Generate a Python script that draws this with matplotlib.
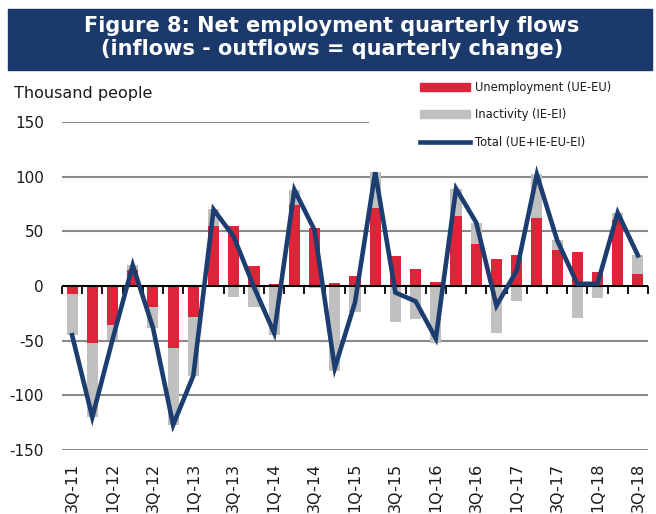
import matplotlib
matplotlib.use("Agg")
import matplotlib.pyplot as plt
from matplotlib.patches import Rectangle
from matplotlib.lines import Line2D
from matplotlib.markers import TICKDOWN
import numpy as np

# Quarterly net flows into employment, thousand people
quarters = ["3Q-11", "4Q-11", "1Q-12", "2Q-12", "3Q-12", "4Q-12", "1Q-13", "2Q-13",
            "3Q-13", "4Q-13", "1Q-14", "2Q-14", "3Q-14", "4Q-14", "1Q-15", "2Q-15",
            "3Q-15", "4Q-15", "1Q-16", "2Q-16", "3Q-16", "4Q-16", "1Q-17", "2Q-17",
            "3Q-17", "4Q-17", "1Q-18", "2Q-18", "3Q-18"]
unemployment = [-7, -52, -36, 15, -19, -57, -28, 55, 55, 18, 2, 74, 53, 3, 9, 71,
                27, 16, 4, 64, 38, 25, 28, 62, 33, 31, 13, 60, 11]
inactivity = [-38, -68, -13, 4, -19, -70, -54, 15, -10, -19, -45, 14, -2, -78, -24, 33,
              -33, -30, -52, 25, 20, -43, -14, 40, 9, -29, -11, 7, 17]
y_ticks = [-150, -100, -50, 0, 50, 100, 150]

RED = "#dc2538"
GREY = "#c0c0c0"
NAVY = "#1b3d70"
BAND = "#1b3a6b"
GRID = "#8a8a8a"
FONT = "DejaVu Sans"

u = np.array(unemployment, dtype=float)
i = np.array(inactivity, dtype=float)
total = u + i
x = np.arange(len(quarters))
# inactivity stacks on top of unemployment when both share a sign
grey_bottom = np.where(np.sign(u) == np.sign(i), u, 0.0)

fig = plt.figure(figsize=(6.56, 5.14), dpi=100)
W, H = 656, 514
ax = fig.add_axes([62 / W, 1 - 450 / H, (648 - 62) / W, (450 - 122) / H])

# horizontal grid; top line stops short of the legend
for v in y_ticks:
    if v == 0:
        continue
    ax.axhline(v, color=GRID, lw=1.5, zorder=0,
               xmax=0.522 if v == 150 else 1.0)

ax.bar(x, u, width=0.55, color=RED, zorder=2, label="Unemployment (UE-EU)")
ax.bar(x, i, bottom=grey_bottom, width=0.55, color=GREY, zorder=2,
       label="Inactivity (IE-EI)")

# zero axis with ticks on category boundaries
ax.axhline(0, color="black", lw=1.5, zorder=3)
bounds = np.arange(len(quarters) + 1) - 0.5
ax.plot(bounds, np.zeros_like(bounds), ls="none", marker=TICKDOWN, ms=6,
        mew=1.3, color="black", zorder=3, clip_on=False)

ax.plot(x, total, color=NAVY, lw=3.3, zorder=4, solid_joinstyle="miter",
        label="Total (UE+IE-EU-EI)")

ax.set_xlim(-0.5, len(quarters) - 0.5)
ax.set_ylim(-150, 150)
ax.set_yticks(y_ticks)
ax.set_yticklabels([str(v) for v in y_ticks], fontsize=11, family=FONT,
                   color="#1a1a1a")
ax.set_xticks(x[::2])
ax.set_xticklabels(quarters[::2], rotation=90, fontsize=11.5, family=FONT,
                   color="#1a1a1a", va="top")
ax.tick_params(axis="both", length=0)
ax.tick_params(axis="y", pad=13)
ax.tick_params(axis="x", pad=9)
for s in ax.spines.values():
    s.set_visible(False)

# title band
fig.patches.append(Rectangle((8 / W, 1 - 70 / H), (652 - 8) / W, (70 - 9) / H,
                             transform=fig.transFigure, color=BAND, zorder=0))
fig.text(332 / W, 1 - 32 / H, "Figure 8: Net employment quarterly flows",
         ha="center", va="baseline", color="white", fontsize=15,
         fontweight="bold", family=FONT)
fig.text(332 / W, 1 - 55 / H, "(inflows - outflows = quarterly change)",
         ha="center", va="baseline", color="white", fontsize=15,
         fontweight="bold", family=FONT)

fig.text(14 / W, 1 - 98 / H, "Thousand people", ha="left", va="baseline",
         fontsize=11.5, family=FONT, color="#1a1a1a")

handles = [
    Rectangle((0, 0), 1, 1, color=RED),
    Rectangle((0, 0), 1, 1, color=GREY),
    Line2D([], [], color=NAVY, lw=3.3),
]
labels = ["Unemployment (UE-EU)", "Inactivity (IE-EI)", "Total (UE+IE-EU-EI)"]
fig.legend(handles, labels, loc="upper left", bbox_to_anchor=(420 / W, 1 - 81 / H),
           frameon=False, borderpad=0, borderaxespad=0, handlelength=4.3,
           handleheight=0.7, handletextpad=0.45, labelspacing=1.25,
           prop={"family": FONT, "size": 8.3}, labelcolor="#1a1a1a")

fig.savefig("out.png", dpi=100)
